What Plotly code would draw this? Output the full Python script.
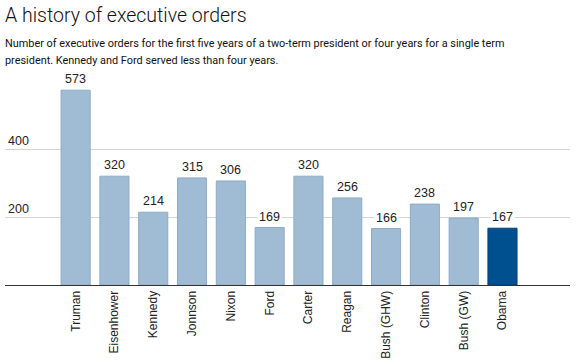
import plotly.graph_objects as go

presidents = ["Truman", "Eisenhower", "Kennedy", "Jonnson", "Nixon", "Ford",
              "Carter", "Reagan", "Bush (GHW)", "Clinton", "Bush (GW)", "Obama"]
orders = [573, 320, 214, 315, 306, 169, 320, 256, 166, 238, 197, 167]
y_ticks = [200, 400]

title_text = "A history of executive orders"
subtitle_lines = [
    "Number of executive orders for the first five years of a two-term president or four years for a single term",
    "president. Kennedy and Ford served less than four years.",
]

light = "#a0bcd5"
light_line = "#8eabc5"
dark = "#004f8e"
dark_line = "#003f75"

fill = [dark if p == "Obama" else light for p in presidents]
edge = [dark_line if p == "Obama" else light_line for p in presidents]

FONT = "Liberation Sans, Arial, sans-serif"
PLOT_H = 204

fig = go.Figure()
fig.add_trace(go.Bar(
    x=presidents, y=orders,
    marker=dict(color=fill, line=dict(color=edge, width=1)),
    hoverinfo="x+y",
))

for p, v in zip(presidents, orders):
    fig.add_annotation(x=p, y=v, text=str(v), showarrow=False, yanchor="bottom",
                       yshift=2, bgcolor="white", borderpad=1,
                       font=dict(family=FONT, size=12.5, color="#222"))

fig.update_layout(
    width=579, height=364,
    margin=dict(l=5, r=9, t=81, b=79, autoexpand=False),
    paper_bgcolor="white", plot_bgcolor="white",
    bargap=0.25,
    showlegend=False,
    font=dict(family=FONT, color="#222"),
    xaxis=dict(range=[-1.82, 12.74], tickangle=-90, showgrid=False, ticks="",
               automargin=False,
               showline=True, linecolor="#333", linewidth=1,
               tickfont=dict(size=12, color="#222")),
    yaxis=dict(range=[0, 600], tickvals=y_ticks, ticklabelposition="inside top",
               automargin=False,
               showgrid=True, gridcolor="#d4d4d4", gridwidth=1, zeroline=False,
               showline=False, tickfont=dict(size=12.5, color="#222")),
)

fig.add_annotation(xref="paper", yref="paper", xanchor="left", yanchor="middle",
                   x=-0.004, y=1 + (81 - 15) / PLOT_H, text=title_text, showarrow=False,
                   font=dict(family="Roboto, Liberation Sans, sans-serif", size=19.5, weight=300,
                             color="#111"), align="left")
for i, line in enumerate(subtitle_lines):
    fig.add_annotation(xref="paper", yref="paper", xanchor="left", yanchor="middle",
                       x=-0.004, y=1 + (81 - 44 - 17 * i) / PLOT_H,
                       text=line, showarrow=False, align="left",
                       font=dict(family="Roboto, Liberation Sans, sans-serif", size=10.9,
                                 color="#111"))

fig.write_html("out.html", config={"displayModeBar": False},
               post_script="document.body.style.margin='0';")
